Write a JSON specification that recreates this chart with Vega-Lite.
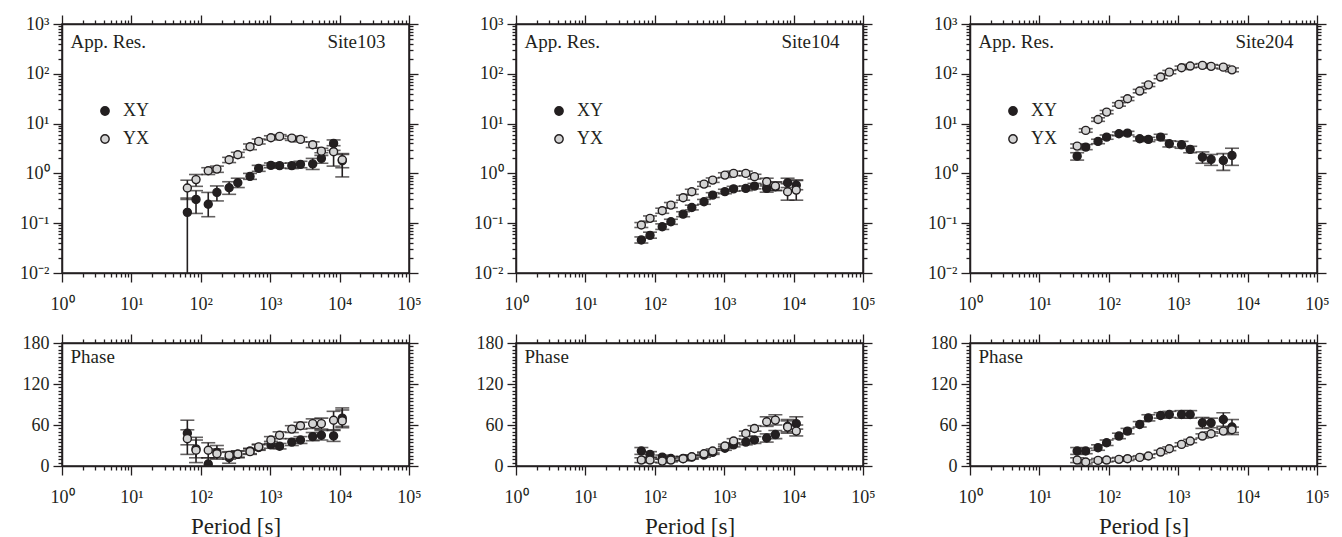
{
  "$schema": "https://vega.github.io/schema/vega-lite/v6.json",
  "background": "white",
  "padding": {"left": 18, "top": 13, "right": 5, "bottom": 5},
  "datasets": {
    "mt": [
      {"s":"103","c":"XY","p":64,"r":0.165,"rl":0.001,"rh":0.32,"f":48,"fl":31,"fh":67},
      {"s":"103","c":"XY","p":85.33,"r":0.30,"rl":0.157,"rh":0.45,"f":25,"fl":12,"fh":38},
      {"s":"103","c":"XY","p":128,"r":0.24,"rl":0.135,"rh":0.415,"f":3,"fl":-6,"fh":12},
      {"s":"103","c":"XY","p":170.67,"r":0.415,"rl":0.28,"rh":0.56,"f":20,"fl":10,"fh":30},
      {"s":"103","c":"XY","p":256,"r":0.515,"rl":0.38,"rh":0.68,"f":12,"fl":4,"fh":20},
      {"s":"103","c":"XY","p":341.33,"r":0.65,"rl":0.52,"rh":0.8,"f":17,"fl":12,"fh":22},
      {"s":"103","c":"XY","p":512,"r":0.87,"rl":0.76,"rh":1.0,"f":22,"fl":18,"fh":26},
      {"s":"103","c":"XY","p":682.67,"r":1.26,"rl":1.1,"rh":1.45,"f":27,"fl":23,"fh":31},
      {"s":"103","c":"XY","p":1024,"r":1.45,"rl":1.3,"rh":1.62,"f":31,"fl":26,"fh":36},
      {"s":"103","c":"XY","p":1365.33,"r":1.43,"rl":1.28,"rh":1.6,"f":29,"fl":25,"fh":33},
      {"s":"103","c":"XY","p":2048,"r":1.43,"rl":1.25,"rh":1.62,"f":35,"fl":30,"fh":40},
      {"s":"103","c":"XY","p":2730.67,"r":1.52,"rl":1.3,"rh":1.75,"f":38,"fl":33,"fh":43},
      {"s":"103","c":"XY","p":4096,"r":1.55,"rl":1.2,"rh":2.0,"f":43,"fl":37,"fh":49},
      {"s":"103","c":"XY","p":5461.33,"r":2.0,"rl":1.6,"rh":2.6,"f":45,"fl":38,"fh":52},
      {"s":"103","c":"XY","p":8192,"r":4.0,"rl":2.9,"rh":4.7,"f":44,"fl":36,"fh":52},
      {"s":"103","c":"XY","p":10922.67,"r":1.8,"rl":1.3,"rh":2.4,"f":70,"fl":58,"fh":82},
      {"s":"103","c":"YX","p":64,"r":0.51,"rl":0.3,"rh":0.73,"f":40,"fl":17,"fh":53},
      {"s":"103","c":"YX","p":85.33,"r":0.75,"rl":0.55,"rh":0.95,"f":23,"fl":5,"fh":42},
      {"s":"103","c":"YX","p":128,"r":1.13,"rl":0.95,"rh":1.3,"f":23,"fl":12,"fh":34},
      {"s":"103","c":"YX","p":170.67,"r":1.22,"rl":1.05,"rh":1.4,"f":18,"fl":12,"fh":25},
      {"s":"103","c":"YX","p":256,"r":1.88,"rl":1.65,"rh":2.1,"f":15.5,"fl":10,"fh":21},
      {"s":"103","c":"YX","p":341.33,"r":2.37,"rl":2.1,"rh":2.65,"f":17.5,"fl":13,"fh":22},
      {"s":"103","c":"YX","p":512,"r":3.43,"rl":3.0,"rh":3.9,"f":21,"fl":17,"fh":25},
      {"s":"103","c":"YX","p":682.67,"r":4.39,"rl":3.9,"rh":4.9,"f":28,"fl":24,"fh":32},
      {"s":"103","c":"YX","p":1024,"r":5.2,"rl":4.7,"rh":5.7,"f":38,"fl":33,"fh":43},
      {"s":"103","c":"YX","p":1365.33,"r":5.53,"rl":5.0,"rh":6.0,"f":45,"fl":40,"fh":50},
      {"s":"103","c":"YX","p":2048,"r":5.12,"rl":4.6,"rh":5.6,"f":54,"fl":49,"fh":59},
      {"s":"103","c":"YX","p":2730.67,"r":4.82,"rl":4.3,"rh":5.3,"f":59,"fl":54,"fh":64},
      {"s":"103","c":"YX","p":4096,"r":3.77,"rl":3.3,"rh":4.3,"f":62,"fl":55,"fh":69},
      {"s":"103","c":"YX","p":5461.33,"r":2.8,"rl":2.3,"rh":3.2,"f":62,"fl":54,"fh":70},
      {"s":"103","c":"YX","p":8192,"r":2.73,"rl":1.4,"rh":3.6,"f":67,"fl":53,"fh":80},
      {"s":"103","c":"YX","p":10922.67,"r":1.88,"rl":0.85,"rh":2.5,"f":66,"fl":56,"fh":85},

      {"s":"104","c":"XY","p":64,"r":0.046,"rl":0.04,"rh":0.053,"f":22,"fl":17,"fh":27},
      {"s":"104","c":"XY","p":85.33,"r":0.057,"rl":0.05,"rh":0.066,"f":17,"fl":13,"fh":21},
      {"s":"104","c":"XY","p":128,"r":0.085,"rl":0.075,"rh":0.097,"f":13,"fl":10,"fh":16},
      {"s":"104","c":"XY","p":170.67,"r":0.107,"rl":0.095,"rh":0.12,"f":11,"fl":8,"fh":14},
      {"s":"104","c":"XY","p":256,"r":0.152,"rl":0.135,"rh":0.17,"f":11,"fl":8,"fh":14},
      {"s":"104","c":"XY","p":341.33,"r":0.207,"rl":0.185,"rh":0.23,"f":13,"fl":10,"fh":16},
      {"s":"104","c":"XY","p":512,"r":0.27,"rl":0.24,"rh":0.3,"f":16,"fl":13,"fh":19},
      {"s":"104","c":"XY","p":682.67,"r":0.367,"rl":0.33,"rh":0.41,"f":20,"fl":17,"fh":23},
      {"s":"104","c":"XY","p":1024,"r":0.43,"rl":0.39,"rh":0.48,"f":26,"fl":23,"fh":29},
      {"s":"104","c":"XY","p":1365.33,"r":0.49,"rl":0.44,"rh":0.55,"f":31,"fl":28,"fh":34},
      {"s":"104","c":"XY","p":2048,"r":0.5,"rl":0.45,"rh":0.56,"f":35,"fl":31,"fh":39},
      {"s":"104","c":"XY","p":2730.67,"r":0.556,"rl":0.49,"rh":0.63,"f":38,"fl":33,"fh":43},
      {"s":"104","c":"XY","p":4096,"r":0.5,"rl":0.42,"rh":0.6,"f":41,"fl":35,"fh":47},
      {"s":"104","c":"XY","p":5461.33,"r":0.54,"rl":0.45,"rh":0.66,"f":46,"fl":40,"fh":52},
      {"s":"104","c":"XY","p":8192,"r":0.65,"rl":0.52,"rh":0.8,"f":58,"fl":50,"fh":68},
      {"s":"104","c":"XY","p":10922.67,"r":0.58,"rl":0.47,"rh":0.72,"f":62,"fl":54,"fh":72},
      {"s":"104","c":"YX","p":64,"r":0.092,"rl":0.082,"rh":0.103,"f":8.7,"fl":5,"fh":12},
      {"s":"104","c":"YX","p":85.33,"r":0.125,"rl":0.11,"rh":0.14,"f":8.7,"fl":5.5,"fh":12},
      {"s":"104","c":"YX","p":128,"r":0.178,"rl":0.158,"rh":0.2,"f":7.2,"fl":4.5,"fh":10},
      {"s":"104","c":"YX","p":170.67,"r":0.231,"rl":0.205,"rh":0.26,"f":8.7,"fl":6,"fh":11.5},
      {"s":"104","c":"YX","p":256,"r":0.325,"rl":0.29,"rh":0.365,"f":10.7,"fl":8,"fh":13.5},
      {"s":"104","c":"YX","p":341.33,"r":0.429,"rl":0.38,"rh":0.48,"f":13.6,"fl":11,"fh":16},
      {"s":"104","c":"YX","p":512,"r":0.61,"rl":0.55,"rh":0.68,"f":18,"fl":15.5,"fh":20.5},
      {"s":"104","c":"YX","p":682.67,"r":0.733,"rl":0.66,"rh":0.81,"f":21.9,"fl":19,"fh":25},
      {"s":"104","c":"YX","p":1024,"r":0.925,"rl":0.83,"rh":1.03,"f":29.2,"fl":26,"fh":32},
      {"s":"104","c":"YX","p":1365.33,"r":1.0,"rl":0.9,"rh":1.11,"f":36.5,"fl":33,"fh":40},
      {"s":"104","c":"YX","p":2048,"r":1.0,"rl":0.9,"rh":1.11,"f":47.6,"fl":44,"fh":51},
      {"s":"104","c":"YX","p":2730.67,"r":0.86,"rl":0.77,"rh":0.96,"f":54.9,"fl":51,"fh":59},
      {"s":"104","c":"YX","p":4096,"r":0.68,"rl":0.56,"rh":0.8,"f":64.7,"fl":58,"fh":72},
      {"s":"104","c":"YX","p":5461.33,"r":0.556,"rl":0.46,"rh":0.68,"f":67.2,"fl":60,"fh":75},
      {"s":"104","c":"YX","p":8192,"r":0.429,"rl":0.29,"rh":0.62,"f":56.9,"fl":48,"fh":66},
      {"s":"104","c":"YX","p":10922.67,"r":0.462,"rl":0.29,"rh":0.74,"f":51.1,"fl":44,"fh":60},

      {"s":"204","c":"XY","p":35,"r":2.22,"rl":1.85,"rh":2.6,"f":21.9,"fl":17,"fh":27},
      {"s":"204","c":"XY","p":46.5,"r":3.37,"rl":3.0,"rh":3.8,"f":21.9,"fl":18,"fh":26},
      {"s":"204","c":"XY","p":70,"r":4.39,"rl":3.95,"rh":4.85,"f":26.8,"fl":23,"fh":31},
      {"s":"204","c":"XY","p":93,"r":5.36,"rl":4.85,"rh":5.9,"f":34,"fl":30,"fh":38},
      {"s":"204","c":"XY","p":140,"r":6.24,"rl":5.7,"rh":6.8,"f":43.8,"fl":40,"fh":48},
      {"s":"204","c":"XY","p":186,"r":6.44,"rl":5.9,"rh":7.0,"f":51.1,"fl":47,"fh":55},
      {"s":"204","c":"XY","p":279,"r":4.96,"rl":4.5,"rh":5.45,"f":60.8,"fl":57,"fh":65},
      {"s":"204","c":"XY","p":372,"r":4.82,"rl":4.35,"rh":5.3,"f":70.5,"fl":66,"fh":75},
      {"s":"204","c":"XY","p":558,"r":5.36,"rl":4.7,"rh":6.1,"f":73.9,"fl":70,"fh":78},
      {"s":"204","c":"XY","p":745,"r":3.93,"rl":3.4,"rh":4.5,"f":75.4,"fl":71,"fh":80},
      {"s":"204","c":"XY","p":1117,"r":3.75,"rl":3.2,"rh":4.4,"f":75.4,"fl":70,"fh":81},
      {"s":"204","c":"XY","p":1489,"r":3.03,"rl":2.6,"rh":3.5,"f":75.4,"fl":70,"fh":81},
      {"s":"204","c":"XY","p":2234,"r":2.12,"rl":1.6,"rh":2.7,"f":63.2,"fl":55,"fh":71},
      {"s":"204","c":"XY","p":2979,"r":1.91,"rl":1.45,"rh":2.4,"f":63.2,"fl":56,"fh":70},
      {"s":"204","c":"XY","p":4468,"r":1.82,"rl":1.15,"rh":2.5,"f":68,"fl":58,"fh":78},
      {"s":"204","c":"XY","p":5957,"r":2.3,"rl":1.45,"rh":3.2,"f":57,"fl":46,"fh":68},
      {"s":"204","c":"YX","p":35,"r":3.53,"rl":3.2,"rh":3.9,"f":8.7,"fl":5,"fh":12},
      {"s":"204","c":"YX","p":46.5,"r":7.3,"rl":6.7,"rh":7.9,"f":5.8,"fl":3,"fh":9},
      {"s":"204","c":"YX","p":70,"r":12.1,"rl":11.1,"rh":13.1,"f":8.2,"fl":5.5,"fh":11},
      {"s":"204","c":"YX","p":93,"r":17.0,"rl":15.7,"rh":18.4,"f":8.7,"fl":6,"fh":11.5},
      {"s":"204","c":"YX","p":140,"r":24.3,"rl":22.4,"rh":26.3,"f":9.7,"fl":7,"fh":12.5},
      {"s":"204","c":"YX","p":186,"r":31.5,"rl":29,"rh":34,"f":10.7,"fl":8,"fh":13.5},
      {"s":"204","c":"YX","p":279,"r":45,"rl":41.5,"rh":48.7,"f":12.6,"fl":10,"fh":15},
      {"s":"204","c":"YX","p":372,"r":60,"rl":55.5,"rh":65,"f":14.6,"fl":12,"fh":17},
      {"s":"204","c":"YX","p":558,"r":86,"rl":79.5,"rh":93,"f":20.4,"fl":18,"fh":23},
      {"s":"204","c":"YX","p":745,"r":108,"rl":100,"rh":117,"f":25.3,"fl":22.5,"fh":28},
      {"s":"204","c":"YX","p":1117,"r":132,"rl":122,"rh":143,"f":31.6,"fl":29,"fh":34},
      {"s":"204","c":"YX","p":1489,"r":143,"rl":132,"rh":155,"f":36.5,"fl":34,"fh":39},
      {"s":"204","c":"YX","p":2234,"r":147.5,"rl":136,"rh":160,"f":43.8,"fl":41,"fh":47},
      {"s":"204","c":"YX","p":2979,"r":141,"rl":130,"rh":153,"f":47.2,"fl":44,"fh":50},
      {"s":"204","c":"YX","p":4468,"r":136,"rl":125,"rh":148,"f":51.1,"fl":48,"fh":54},
      {"s":"204","c":"YX","p":5957,"r":120,"rl":110,"rh":131,"f":53,"fl":49,"fh":57}
    ]
  },
  "columns": 3,
  "spacing": {"row": 70, "column": 107},
  "bounds": "flush",
  "align": "each",
  "resolve": {"legend": {"fill": "independent"}},
  "concat": [
    {
      "width": 347, "height": 249,
      "data": {"name": "mt"},
      "transform": [{"filter": "datum.s == '103'"}],
      "resolve": {"axis": {"x": "independent", "y": "independent"}},
      "layer": [
        {"mark": {"type": "rule", "clip": true, "color": "#231f20", "strokeWidth": 1.6},
         "encoding": {
           "x": {"field": "p", "type": "quantitative", "scale": {"type": "log", "domain": [1, 100000], "nice": false},
                 "axis": {"orient": "bottom", "values": [1,2,3,4,5,6,7,8,9,10,20,30,40,50,60,70,80,90,100,200,300,400,500,600,700,800,900,1000,2000,3000,4000,5000,6000,7000,8000,9000,10000,20000,30000,40000,50000,60000,70000,80000,90000,100000],
                          "labelExpr": "abs(log(datum.value)/LN10-round(log(datum.value)/LN10))<0.001 ? '10'+['⁻²','⁻¹','⁰','¹','²','³','⁴','⁵'][round(log(datum.value)/LN10)+2] : ''",
                          "tickSize": {"condition": {"test": "abs(log(datum.value)/LN10-round(log(datum.value)/LN10))<0.001", "value": 9}, "value": 4},
                          "labelPadding": 13, "title": null}},
           "y": {"field": "rl", "type": "quantitative", "scale": {"type": "log", "domain": [0.01, 1000], "nice": false},
                 "axis": {"orient": "left", "values": [0.01,0.02,0.03,0.04,0.05,0.06,0.07,0.08,0.09,0.1,0.2,0.3,0.4,0.5,0.6,0.7,0.8,0.9,1,2,3,4,5,6,7,8,9,10,20,30,40,50,60,70,80,90,100,200,300,400,500,600,700,800,900,1000],
                          "labelExpr": "abs(log(datum.value)/LN10-round(log(datum.value)/LN10))<0.001 ? '10'+['⁻²','⁻¹','⁰','¹','²','³','⁴','⁵'][round(log(datum.value)/LN10)+2] : ''",
                          "tickSize": {"condition": {"test": "abs(log(datum.value)/LN10-round(log(datum.value)/LN10))<0.001", "value": 9}, "value": 4},
                          "labelPadding": 4,
                          "title": "App. Res.", "titleX": 8, "titleY": 23, "titleAlign": "left", "titleBaseline": "alphabetic", "titleAngle": 0}},
           "y2": {"field": "rh"}
         }},
        {"mark": {"type": "tick", "orient": "horizontal", "clip": true, "size": 14, "thickness": 1.6, "color": "#231f20"},
         "encoding": {
           "x": {"field": "p", "type": "quantitative",
                 "axis": {"orient": "top", "values": [1,2,3,4,5,6,7,8,9,10,20,30,40,50,60,70,80,90,100,200,300,400,500,600,700,800,900,1000,2000,3000,4000,5000,6000,7000,8000,9000,10000,20000,30000,40000,50000,60000,70000,80000,90000,100000],
                          "labels": false,
                          "tickSize": {"condition": {"test": "abs(log(datum.value)/LN10-round(log(datum.value)/LN10))<0.001", "value": 9}, "value": 4},
                          "title": "Site103", "titleX": 265, "titleY": 23, "titleAlign": "left", "titleBaseline": "alphabetic", "titleAngle": 0}},
           "y": {"field": "rl", "type": "quantitative",
                 "axis": {"orient": "right", "values": [0.01,0.02,0.03,0.04,0.05,0.06,0.07,0.08,0.09,0.1,0.2,0.3,0.4,0.5,0.6,0.7,0.8,0.9,1,2,3,4,5,6,7,8,9,10,20,30,40,50,60,70,80,90,100,200,300,400,500,600,700,800,900,1000],
                          "labels": false,
                          "tickSize": {"condition": {"test": "abs(log(datum.value)/LN10-round(log(datum.value)/LN10))<0.001", "value": 9}, "value": 4},
                          "title": null}}
         }},
        {"mark": {"type": "tick", "orient": "horizontal", "clip": true, "size": 14, "thickness": 1.6, "color": "#231f20"},
         "encoding": {
           "x": {"field": "p", "type": "quantitative", "axis": null},
           "y": {"field": "rh", "type": "quantitative", "axis": null}
         }},
        {"mark": {"type": "circle", "size": 64, "stroke": "#231f20", "strokeWidth": 1.4, "opacity": 1, "clip": true},
         "encoding": {
           "x": {"field": "p", "type": "quantitative", "axis": null},
           "y": {"field": "r", "type": "quantitative", "axis": null},
           "fill": {"field": "c", "type": "nominal", "scale": {"domain": ["XY", "YX"], "range": ["#231f20", "#d4d4d4"]},
                    "legend": {"orient": "none", "legendX": 34, "legendY": 78, "direction": "vertical", "title": null, "padding": 0, "rowPadding": 10, "labelOffset": 9, "labelFontSize": 18, "symbolSize": 70, "symbolStrokeColor": "#231f20", "symbolStrokeWidth": 1.4}}
         }}
      ]
    },
    {
      "width": 347, "height": 249,
      "data": {"name": "mt"},
      "transform": [{"filter": "datum.s == '104'"}],
      "resolve": {"axis": {"x": "independent", "y": "independent"}},
      "layer": [
        {"mark": {"type": "rule", "clip": true, "color": "#231f20", "strokeWidth": 1.6},
         "encoding": {
           "x": {"field": "p", "type": "quantitative", "scale": {"type": "log", "domain": [1, 100000], "nice": false},
                 "axis": {"orient": "bottom", "values": [1,2,3,4,5,6,7,8,9,10,20,30,40,50,60,70,80,90,100,200,300,400,500,600,700,800,900,1000,2000,3000,4000,5000,6000,7000,8000,9000,10000,20000,30000,40000,50000,60000,70000,80000,90000,100000],
                          "labelExpr": "abs(log(datum.value)/LN10-round(log(datum.value)/LN10))<0.001 ? '10'+['⁻²','⁻¹','⁰','¹','²','³','⁴','⁵'][round(log(datum.value)/LN10)+2] : ''",
                          "tickSize": {"condition": {"test": "abs(log(datum.value)/LN10-round(log(datum.value)/LN10))<0.001", "value": 9}, "value": 4},
                          "labelPadding": 13, "title": null}},
           "y": {"field": "rl", "type": "quantitative", "scale": {"type": "log", "domain": [0.01, 1000], "nice": false},
                 "axis": {"orient": "left", "values": [0.01,0.02,0.03,0.04,0.05,0.06,0.07,0.08,0.09,0.1,0.2,0.3,0.4,0.5,0.6,0.7,0.8,0.9,1,2,3,4,5,6,7,8,9,10,20,30,40,50,60,70,80,90,100,200,300,400,500,600,700,800,900,1000],
                          "labelExpr": "abs(log(datum.value)/LN10-round(log(datum.value)/LN10))<0.001 ? '10'+['⁻²','⁻¹','⁰','¹','²','³','⁴','⁵'][round(log(datum.value)/LN10)+2] : ''",
                          "tickSize": {"condition": {"test": "abs(log(datum.value)/LN10-round(log(datum.value)/LN10))<0.001", "value": 9}, "value": 4},
                          "labelPadding": 4,
                          "title": "App. Res.", "titleX": 8, "titleY": 23, "titleAlign": "left", "titleBaseline": "alphabetic", "titleAngle": 0}},
           "y2": {"field": "rh"}
         }},
        {"mark": {"type": "tick", "orient": "horizontal", "clip": true, "size": 14, "thickness": 1.6, "color": "#231f20"},
         "encoding": {
           "x": {"field": "p", "type": "quantitative",
                 "axis": {"orient": "top", "values": [1,2,3,4,5,6,7,8,9,10,20,30,40,50,60,70,80,90,100,200,300,400,500,600,700,800,900,1000,2000,3000,4000,5000,6000,7000,8000,9000,10000,20000,30000,40000,50000,60000,70000,80000,90000,100000],
                          "labels": false,
                          "tickSize": {"condition": {"test": "abs(log(datum.value)/LN10-round(log(datum.value)/LN10))<0.001", "value": 9}, "value": 4},
                          "title": "Site104", "titleX": 265, "titleY": 23, "titleAlign": "left", "titleBaseline": "alphabetic", "titleAngle": 0}},
           "y": {"field": "rl", "type": "quantitative",
                 "axis": {"orient": "right", "values": [0.01,0.02,0.03,0.04,0.05,0.06,0.07,0.08,0.09,0.1,0.2,0.3,0.4,0.5,0.6,0.7,0.8,0.9,1,2,3,4,5,6,7,8,9,10,20,30,40,50,60,70,80,90,100,200,300,400,500,600,700,800,900,1000],
                          "labels": false,
                          "tickSize": {"condition": {"test": "abs(log(datum.value)/LN10-round(log(datum.value)/LN10))<0.001", "value": 9}, "value": 4},
                          "title": null}}
         }},
        {"mark": {"type": "tick", "orient": "horizontal", "clip": true, "size": 14, "thickness": 1.6, "color": "#231f20"},
         "encoding": {
           "x": {"field": "p", "type": "quantitative", "axis": null},
           "y": {"field": "rh", "type": "quantitative", "axis": null}
         }},
        {"mark": {"type": "circle", "size": 64, "stroke": "#231f20", "strokeWidth": 1.4, "opacity": 1, "clip": true},
         "encoding": {
           "x": {"field": "p", "type": "quantitative", "axis": null},
           "y": {"field": "r", "type": "quantitative", "axis": null},
           "fill": {"field": "c", "type": "nominal", "scale": {"domain": ["XY", "YX"], "range": ["#231f20", "#d4d4d4"]},
                    "legend": {"orient": "none", "legendX": 34, "legendY": 78, "direction": "vertical", "title": null, "padding": 0, "rowPadding": 10, "labelOffset": 9, "labelFontSize": 18, "symbolSize": 70, "symbolStrokeColor": "#231f20", "symbolStrokeWidth": 1.4}}
         }}
      ]
    },
    {
      "width": 347, "height": 249,
      "data": {"name": "mt"},
      "transform": [{"filter": "datum.s == '204'"}],
      "resolve": {"axis": {"x": "independent", "y": "independent"}},
      "layer": [
        {"mark": {"type": "rule", "clip": true, "color": "#231f20", "strokeWidth": 1.6},
         "encoding": {
           "x": {"field": "p", "type": "quantitative", "scale": {"type": "log", "domain": [1, 100000], "nice": false},
                 "axis": {"orient": "bottom", "values": [1,2,3,4,5,6,7,8,9,10,20,30,40,50,60,70,80,90,100,200,300,400,500,600,700,800,900,1000,2000,3000,4000,5000,6000,7000,8000,9000,10000,20000,30000,40000,50000,60000,70000,80000,90000,100000],
                          "labelExpr": "abs(log(datum.value)/LN10-round(log(datum.value)/LN10))<0.001 ? '10'+['⁻²','⁻¹','⁰','¹','²','³','⁴','⁵'][round(log(datum.value)/LN10)+2] : ''",
                          "tickSize": {"condition": {"test": "abs(log(datum.value)/LN10-round(log(datum.value)/LN10))<0.001", "value": 9}, "value": 4},
                          "labelPadding": 13, "title": null}},
           "y": {"field": "rl", "type": "quantitative", "scale": {"type": "log", "domain": [0.01, 1000], "nice": false},
                 "axis": {"orient": "left", "values": [0.01,0.02,0.03,0.04,0.05,0.06,0.07,0.08,0.09,0.1,0.2,0.3,0.4,0.5,0.6,0.7,0.8,0.9,1,2,3,4,5,6,7,8,9,10,20,30,40,50,60,70,80,90,100,200,300,400,500,600,700,800,900,1000],
                          "labelExpr": "abs(log(datum.value)/LN10-round(log(datum.value)/LN10))<0.001 ? '10'+['⁻²','⁻¹','⁰','¹','²','³','⁴','⁵'][round(log(datum.value)/LN10)+2] : ''",
                          "tickSize": {"condition": {"test": "abs(log(datum.value)/LN10-round(log(datum.value)/LN10))<0.001", "value": 9}, "value": 4},
                          "labelPadding": 4,
                          "title": "App. Res.", "titleX": 8, "titleY": 23, "titleAlign": "left", "titleBaseline": "alphabetic", "titleAngle": 0}},
           "y2": {"field": "rh"}
         }},
        {"mark": {"type": "tick", "orient": "horizontal", "clip": true, "size": 14, "thickness": 1.6, "color": "#231f20"},
         "encoding": {
           "x": {"field": "p", "type": "quantitative",
                 "axis": {"orient": "top", "values": [1,2,3,4,5,6,7,8,9,10,20,30,40,50,60,70,80,90,100,200,300,400,500,600,700,800,900,1000,2000,3000,4000,5000,6000,7000,8000,9000,10000,20000,30000,40000,50000,60000,70000,80000,90000,100000],
                          "labels": false,
                          "tickSize": {"condition": {"test": "abs(log(datum.value)/LN10-round(log(datum.value)/LN10))<0.001", "value": 9}, "value": 4},
                          "title": "Site204", "titleX": 265, "titleY": 23, "titleAlign": "left", "titleBaseline": "alphabetic", "titleAngle": 0}},
           "y": {"field": "rl", "type": "quantitative",
                 "axis": {"orient": "right", "values": [0.01,0.02,0.03,0.04,0.05,0.06,0.07,0.08,0.09,0.1,0.2,0.3,0.4,0.5,0.6,0.7,0.8,0.9,1,2,3,4,5,6,7,8,9,10,20,30,40,50,60,70,80,90,100,200,300,400,500,600,700,800,900,1000],
                          "labels": false,
                          "tickSize": {"condition": {"test": "abs(log(datum.value)/LN10-round(log(datum.value)/LN10))<0.001", "value": 9}, "value": 4},
                          "title": null}}
         }},
        {"mark": {"type": "tick", "orient": "horizontal", "clip": true, "size": 14, "thickness": 1.6, "color": "#231f20"},
         "encoding": {
           "x": {"field": "p", "type": "quantitative", "axis": null},
           "y": {"field": "rh", "type": "quantitative", "axis": null}
         }},
        {"mark": {"type": "circle", "size": 64, "stroke": "#231f20", "strokeWidth": 1.4, "opacity": 1, "clip": true},
         "encoding": {
           "x": {"field": "p", "type": "quantitative", "axis": null},
           "y": {"field": "r", "type": "quantitative", "axis": null},
           "fill": {"field": "c", "type": "nominal", "scale": {"domain": ["XY", "YX"], "range": ["#231f20", "#d4d4d4"]},
                    "legend": {"orient": "none", "legendX": 34, "legendY": 78, "direction": "vertical", "title": null, "padding": 0, "rowPadding": 10, "labelOffset": 9, "labelFontSize": 18, "symbolSize": 70, "symbolStrokeColor": "#231f20", "symbolStrokeWidth": 1.4}}
         }}
      ]
    },
    {
      "width": 347, "height": 123,
      "data": {"name": "mt"},
      "transform": [{"filter": "datum.s == '103'"}],
      "resolve": {"axis": {"x": "independent", "y": "independent"}},
      "layer": [
        {"mark": {"type": "rule", "clip": true, "color": "#231f20", "strokeWidth": 1.6},
         "encoding": {
           "x": {"field": "p", "type": "quantitative", "scale": {"type": "log", "domain": [1, 100000], "nice": false},
                 "axis": {"orient": "bottom", "values": [1,2,3,4,5,6,7,8,9,10,20,30,40,50,60,70,80,90,100,200,300,400,500,600,700,800,900,1000,2000,3000,4000,5000,6000,7000,8000,9000,10000,20000,30000,40000,50000,60000,70000,80000,90000,100000],
                          "labelExpr": "abs(log(datum.value)/LN10-round(log(datum.value)/LN10))<0.001 ? '10'+['⁻²','⁻¹','⁰','¹','²','³','⁴','⁵'][round(log(datum.value)/LN10)+2] : ''",
                          "tickSize": {"condition": {"test": "abs(log(datum.value)/LN10-round(log(datum.value)/LN10))<0.001", "value": 9}, "value": 4},
                          "labelPadding": 13, "title": "Period [s]", "titleFontSize": 23, "titlePadding": 9}},
           "y": {"field": "fl", "type": "quantitative", "scale": {"domain": [0, 180], "nice": false},
                 "axis": {"orient": "left", "values": [0,5,10,15,20,25,30,35,40,45,50,55,60,65,70,75,80,85,90,95,100,105,110,115,120,125,130,135,140,145,150,155,160,165,170,175,180],
                          "labelExpr": "datum.value % 60 == 0 ? datum.label : ''",
                          "tickSize": {"condition": {"test": "datum.value % 60 == 0", "value": 9}, "value": 4},
                          "labelPadding": 4,
                          "title": "Phase", "titleX": 8, "titleY": 19, "titleAlign": "left", "titleBaseline": "alphabetic", "titleAngle": 0}},
           "y2": {"field": "fh"}
         }},
        {"mark": {"type": "tick", "orient": "horizontal", "clip": true, "size": 14, "thickness": 1.6, "color": "#231f20"},
         "encoding": {
           "x": {"field": "p", "type": "quantitative",
                 "axis": {"orient": "top", "values": [1,2,3,4,5,6,7,8,9,10,20,30,40,50,60,70,80,90,100,200,300,400,500,600,700,800,900,1000,2000,3000,4000,5000,6000,7000,8000,9000,10000,20000,30000,40000,50000,60000,70000,80000,90000,100000],
                          "labels": false,
                          "tickSize": {"condition": {"test": "abs(log(datum.value)/LN10-round(log(datum.value)/LN10))<0.001", "value": 9}, "value": 4},
                          "title": null}},
           "y": {"field": "fl", "type": "quantitative",
                 "axis": {"orient": "right", "values": [0,5,10,15,20,25,30,35,40,45,50,55,60,65,70,75,80,85,90,95,100,105,110,115,120,125,130,135,140,145,150,155,160,165,170,175,180],
                          "labels": false,
                          "tickSize": {"condition": {"test": "datum.value % 60 == 0", "value": 9}, "value": 4},
                          "title": null}}
         }},
        {"mark": {"type": "tick", "orient": "horizontal", "clip": true, "size": 14, "thickness": 1.6, "color": "#231f20"},
         "encoding": {
           "x": {"field": "p", "type": "quantitative", "axis": null},
           "y": {"field": "fh", "type": "quantitative", "axis": null}
         }},
        {"mark": {"type": "circle", "size": 64, "stroke": "#231f20", "strokeWidth": 1.4, "opacity": 1, "clip": true},
         "encoding": {
           "x": {"field": "p", "type": "quantitative", "axis": null},
           "y": {"field": "f", "type": "quantitative", "axis": null},
           "fill": {"field": "c", "type": "nominal", "scale": {"domain": ["XY", "YX"], "range": ["#231f20", "#d4d4d4"]}, "legend": null}
         }}
      ]
    },
    {
      "width": 347, "height": 123,
      "data": {"name": "mt"},
      "transform": [{"filter": "datum.s == '104'"}],
      "resolve": {"axis": {"x": "independent", "y": "independent"}},
      "layer": [
        {"mark": {"type": "rule", "clip": true, "color": "#231f20", "strokeWidth": 1.6},
         "encoding": {
           "x": {"field": "p", "type": "quantitative", "scale": {"type": "log", "domain": [1, 100000], "nice": false},
                 "axis": {"orient": "bottom", "values": [1,2,3,4,5,6,7,8,9,10,20,30,40,50,60,70,80,90,100,200,300,400,500,600,700,800,900,1000,2000,3000,4000,5000,6000,7000,8000,9000,10000,20000,30000,40000,50000,60000,70000,80000,90000,100000],
                          "labelExpr": "abs(log(datum.value)/LN10-round(log(datum.value)/LN10))<0.001 ? '10'+['⁻²','⁻¹','⁰','¹','²','³','⁴','⁵'][round(log(datum.value)/LN10)+2] : ''",
                          "tickSize": {"condition": {"test": "abs(log(datum.value)/LN10-round(log(datum.value)/LN10))<0.001", "value": 9}, "value": 4},
                          "labelPadding": 13, "title": "Period [s]", "titleFontSize": 23, "titlePadding": 9}},
           "y": {"field": "fl", "type": "quantitative", "scale": {"domain": [0, 180], "nice": false},
                 "axis": {"orient": "left", "values": [0,5,10,15,20,25,30,35,40,45,50,55,60,65,70,75,80,85,90,95,100,105,110,115,120,125,130,135,140,145,150,155,160,165,170,175,180],
                          "labelExpr": "datum.value % 60 == 0 ? datum.label : ''",
                          "tickSize": {"condition": {"test": "datum.value % 60 == 0", "value": 9}, "value": 4},
                          "labelPadding": 4,
                          "title": "Phase", "titleX": 8, "titleY": 19, "titleAlign": "left", "titleBaseline": "alphabetic", "titleAngle": 0}},
           "y2": {"field": "fh"}
         }},
        {"mark": {"type": "tick", "orient": "horizontal", "clip": true, "size": 14, "thickness": 1.6, "color": "#231f20"},
         "encoding": {
           "x": {"field": "p", "type": "quantitative",
                 "axis": {"orient": "top", "values": [1,2,3,4,5,6,7,8,9,10,20,30,40,50,60,70,80,90,100,200,300,400,500,600,700,800,900,1000,2000,3000,4000,5000,6000,7000,8000,9000,10000,20000,30000,40000,50000,60000,70000,80000,90000,100000],
                          "labels": false,
                          "tickSize": {"condition": {"test": "abs(log(datum.value)/LN10-round(log(datum.value)/LN10))<0.001", "value": 9}, "value": 4},
                          "title": null}},
           "y": {"field": "fl", "type": "quantitative",
                 "axis": {"orient": "right", "values": [0,5,10,15,20,25,30,35,40,45,50,55,60,65,70,75,80,85,90,95,100,105,110,115,120,125,130,135,140,145,150,155,160,165,170,175,180],
                          "labels": false,
                          "tickSize": {"condition": {"test": "datum.value % 60 == 0", "value": 9}, "value": 4},
                          "title": null}}
         }},
        {"mark": {"type": "tick", "orient": "horizontal", "clip": true, "size": 14, "thickness": 1.6, "color": "#231f20"},
         "encoding": {
           "x": {"field": "p", "type": "quantitative", "axis": null},
           "y": {"field": "fh", "type": "quantitative", "axis": null}
         }},
        {"mark": {"type": "circle", "size": 64, "stroke": "#231f20", "strokeWidth": 1.4, "opacity": 1, "clip": true},
         "encoding": {
           "x": {"field": "p", "type": "quantitative", "axis": null},
           "y": {"field": "f", "type": "quantitative", "axis": null},
           "fill": {"field": "c", "type": "nominal", "scale": {"domain": ["XY", "YX"], "range": ["#231f20", "#d4d4d4"]}, "legend": null}
         }}
      ]
    },
    {
      "width": 347, "height": 123,
      "data": {"name": "mt"},
      "transform": [{"filter": "datum.s == '204'"}],
      "resolve": {"axis": {"x": "independent", "y": "independent"}},
      "layer": [
        {"mark": {"type": "rule", "clip": true, "color": "#231f20", "strokeWidth": 1.6},
         "encoding": {
           "x": {"field": "p", "type": "quantitative", "scale": {"type": "log", "domain": [1, 100000], "nice": false},
                 "axis": {"orient": "bottom", "values": [1,2,3,4,5,6,7,8,9,10,20,30,40,50,60,70,80,90,100,200,300,400,500,600,700,800,900,1000,2000,3000,4000,5000,6000,7000,8000,9000,10000,20000,30000,40000,50000,60000,70000,80000,90000,100000],
                          "labelExpr": "abs(log(datum.value)/LN10-round(log(datum.value)/LN10))<0.001 ? '10'+['⁻²','⁻¹','⁰','¹','²','³','⁴','⁵'][round(log(datum.value)/LN10)+2] : ''",
                          "tickSize": {"condition": {"test": "abs(log(datum.value)/LN10-round(log(datum.value)/LN10))<0.001", "value": 9}, "value": 4},
                          "labelPadding": 13, "title": "Period [s]", "titleFontSize": 23, "titlePadding": 9}},
           "y": {"field": "fl", "type": "quantitative", "scale": {"domain": [0, 180], "nice": false},
                 "axis": {"orient": "left", "values": [0,5,10,15,20,25,30,35,40,45,50,55,60,65,70,75,80,85,90,95,100,105,110,115,120,125,130,135,140,145,150,155,160,165,170,175,180],
                          "labelExpr": "datum.value % 60 == 0 ? datum.label : ''",
                          "tickSize": {"condition": {"test": "datum.value % 60 == 0", "value": 9}, "value": 4},
                          "labelPadding": 4,
                          "title": "Phase", "titleX": 8, "titleY": 19, "titleAlign": "left", "titleBaseline": "alphabetic", "titleAngle": 0}},
           "y2": {"field": "fh"}
         }},
        {"mark": {"type": "tick", "orient": "horizontal", "clip": true, "size": 14, "thickness": 1.6, "color": "#231f20"},
         "encoding": {
           "x": {"field": "p", "type": "quantitative",
                 "axis": {"orient": "top", "values": [1,2,3,4,5,6,7,8,9,10,20,30,40,50,60,70,80,90,100,200,300,400,500,600,700,800,900,1000,2000,3000,4000,5000,6000,7000,8000,9000,10000,20000,30000,40000,50000,60000,70000,80000,90000,100000],
                          "labels": false,
                          "tickSize": {"condition": {"test": "abs(log(datum.value)/LN10-round(log(datum.value)/LN10))<0.001", "value": 9}, "value": 4},
                          "title": null}},
           "y": {"field": "fl", "type": "quantitative",
                 "axis": {"orient": "right", "values": [0,5,10,15,20,25,30,35,40,45,50,55,60,65,70,75,80,85,90,95,100,105,110,115,120,125,130,135,140,145,150,155,160,165,170,175,180],
                          "labels": false,
                          "tickSize": {"condition": {"test": "datum.value % 60 == 0", "value": 9}, "value": 4},
                          "title": null}}
         }},
        {"mark": {"type": "tick", "orient": "horizontal", "clip": true, "size": 14, "thickness": 1.6, "color": "#231f20"},
         "encoding": {
           "x": {"field": "p", "type": "quantitative", "axis": null},
           "y": {"field": "fh", "type": "quantitative", "axis": null}
         }},
        {"mark": {"type": "circle", "size": 64, "stroke": "#231f20", "strokeWidth": 1.4, "opacity": 1, "clip": true},
         "encoding": {
           "x": {"field": "p", "type": "quantitative", "axis": null},
           "y": {"field": "f", "type": "quantitative", "axis": null},
           "fill": {"field": "c", "type": "nominal", "scale": {"domain": ["XY", "YX"], "range": ["#231f20", "#d4d4d4"]}, "legend": null}
         }}
      ]
    }
  ],
  "config": {
    "font": "Liberation Serif",
    "view": {"stroke": "#231f20", "strokeWidth": 1.5},
    "axis": {
      "labelFont": "Liberation Serif", "labelFontSize": 18, "labelColor": "#231f20",
      "titleFont": "Liberation Serif", "titleFontSize": 19, "titleFontWeight": "normal", "titleColor": "#231f20",
      "domainColor": "#231f20", "domainWidth": 1.5, "tickColor": "#231f20", "tickWidth": 1.3,
      "grid": false, "labelOverlap": false, "labelFlush": false, "labelBound": false
    },
    "legend": {"labelFont": "Liberation Serif", "labelColor": "#231f20"}
  }
}
